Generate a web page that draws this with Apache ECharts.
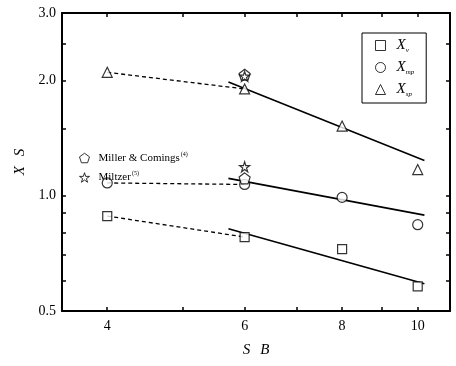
<!DOCTYPE html>
<html><head><meta charset="utf-8">
<script src="https://cdn.jsdelivr.net/npm/echarts@6/dist/echarts.min.js"></script>
<style>html,body{margin:0;padding:0;background:#fff}#c{width:456px;height:366px}</style>
</head><body><div id="c"></div>
<script>
// ---- data ----
const xCats = [4, 6, 8, 10];
const xvVals = [0.885, 0.78, 0.725, 0.58];
const xmpVals = [1.08, 1.07, 0.99, 0.84];
const xspVals = [2.1, 1.9, 1.52, 1.17];
const millerX = [6, 6];
const millerY = [2.07, 1.11];
const miltzerX = [6, 6];
const miltzerY = [2.05, 1.19];
const fitX = [5.72, 10.2];
const xvFit = [0.82, 0.589];
const xmpFit = [1.11, 0.89];
const xspFit = [1.98, 1.235];
const xTickVals = [4, 5, 6, 7, 8, 9, 10];
const xLabelVals = [4, 6, 8, 10];
const yTickVals = [0.5, 0.6, 0.7, 0.8, 0.9, 1.0, 1.5, 2.0, 2.5, 3.0];
const yLabelVals = [0.5, 1.0, 2.0, 3.0];

const pair = (xs, ys) => xs.map((x, i) => [x, ys[i]]);
const F = '"Liberation Serif","DejaVu Serif",serif';
const pentagon = 'path://M0,-1L0.951,-0.309L0.588,0.809L-0.588,0.809L-0.951,-0.309Z';
const star = 'path://M0,-1L0.2245,-0.309L0.951,-0.309L0.363,0.118L0.588,0.809L0,0.382L-0.588,0.809L-0.363,0.118L-0.951,-0.309L-0.2245,-0.309Z';
const hollow = {color: '#fff', borderColor: '#000', borderWidth: 1.2};

function axisX(pos, labels) {
  return {
    type: 'log', logBase: 10, min: 3.5, max: 11, position: pos,
    axisLine: {show: true, onZero: false, lineStyle: {color: '#000', width: 2}},
    axisTick: {show: true, inside: true, length: 4, customValues: xTickVals, lineStyle: {color: '#000', width: 1.5}},
    axisLabel: {show: labels, customValues: xLabelVals, color: '#000', fontFamily: F, fontSize: 14, margin: 8},
    splitLine: {show: false}, minorTick: {show: false},
    name: labels ? '{i|S}   {i|B}' : '', nameLocation: 'middle', nameGap: 32,
    nameTextStyle: {rich: {i: {fontFamily: F, fontStyle: 'italic', fontSize: 15, color: '#000'}}}
  };
}
function axisY(pos, labels) {
  return {
    type: 'log', logBase: 10, min: 0.5, max: 3.0, position: pos,
    axisLine: {show: true, onZero: false, lineStyle: {color: '#000', width: 2}},
    axisTick: {show: true, inside: true, length: 4, customValues: yTickVals, lineStyle: {color: '#000', width: 1.5}},
    axisLabel: {show: labels, customValues: yLabelVals, color: '#000', fontFamily: F, fontSize: 14, margin: 6,
      formatter: v => Number(v).toFixed(1)},
    splitLine: {show: false}, minorTick: {show: false},
    name: labels ? '{i|X}   {i|S}' : '', nameLocation: 'middle', nameGap: 31, nameRotate: 90,
    nameTextStyle: {rich: {i: {fontFamily: F, fontStyle: 'italic', fontSize: 15, color: '#000'}}}
  };
}

const sub = {x: {fontFamily: F, fontStyle: 'italic', fontSize: 15, color: '#000'},
             s: {fontFamily: F, fontStyle: 'italic', fontSize: 7, color: '#000', verticalAlign: 'bottom', padding: [10, 0, 0, 0]}};
const legendNames = {Xv: '{x|X}{s|v}', Xmp: '{x|X}{s|mp}', Xsp: '{x|X}{s|sp}'};
const legIcon = {color: '#fff', borderColor: '#000', borderWidth: 1};

const option = {
  animation: false,
  backgroundColor: '#fff',
  grid: {left: 62, right: 6, top: 13, bottom: 55},
  xAxis: [axisX('bottom', true), axisX('top', false)],
  yAxis: [axisY('left', true), axisY('right', false)],
  legend: [{
    data: ['Xv', 'Xmp', 'Xsp'], orient: 'vertical', left: 362, top: 33,
    borderColor: '#000', borderWidth: 1, padding: [5, 12, 5, 13],
    itemWidth: 10, itemHeight: 10, itemGap: 6, itemStyle: legIcon,
    formatter: n => legendNames[n],
    textStyle: {rich: sub, padding: [0, 0, 0, 6]}
  }, {
    data: [{name: 'Miller', icon: pentagon, itemStyle: legIcon}, {name: 'Miltzer', icon: star, itemStyle: legIcon}],
    orient: 'vertical', left: 79, top: 151,
    itemWidth: 10, itemHeight: 10, itemGap: 7, padding: 0,
    formatter: n => n === 'Miller' ? '{t|Miller & Comings}{p|(4)}' : '{t|Miltzer}{p|(5)}',
    textStyle: {rich: {t: {fontFamily: F, fontSize: 11, color: '#000'},
                       p: {fontFamily: F, fontSize: 6, color: '#000', verticalAlign: 'top', padding: [0, 0, 8, 1]}},
                padding: [0, 0, 0, 4]}
  }],
  series: [
    // fits
    {type: 'line', data: pair(fitX, xspFit), symbol: 'none', lineStyle: {color: '#000', width: 1.6}, silent: true, z: 1},
    {type: 'line', data: pair(fitX, xmpFit), symbol: 'none', lineStyle: {color: '#000', width: 1.6}, silent: true, z: 1},
    {type: 'line', data: pair(fitX, xvFit), symbol: 'none', lineStyle: {color: '#000', width: 1.6}, silent: true, z: 1},
    // dashed links between 4 and 6
    {type: 'line', data: pair(xCats.slice(0, 2), xspVals.slice(0, 2)), symbol: 'none', lineStyle: {color: '#000', width: 1.3, type: [4, 3]}, z: 1},
    {type: 'line', data: pair(xCats.slice(0, 2), xmpVals.slice(0, 2)), symbol: 'none', lineStyle: {color: '#000', width: 1.3, type: [4, 3]}, z: 1},
    {type: 'line', data: pair(xCats.slice(0, 2), xvVals.slice(0, 2)), symbol: 'none', lineStyle: {color: '#000', width: 1.3, type: [4, 3]}, z: 1},
    // points
    {name: 'Xv', type: 'scatter', data: pair(xCats, xvVals), symbol: 'rect', symbolSize: 9, itemStyle: hollow, z: 3},
    {name: 'Xmp', type: 'scatter', data: pair(xCats, xmpVals), symbol: 'circle', symbolSize: 10, itemStyle: hollow, z: 3},
    {name: 'Xsp', type: 'scatter', data: pair(xCats, xspVals), symbol: 'triangle', symbolSize: 10, itemStyle: hollow, z: 3},
    {name: 'Miller', type: 'scatter', data: pair(millerX, millerY), symbol: pentagon, symbolSize: 11, itemStyle: hollow, z: 4},
    {name: 'Miltzer', type: 'scatter', data: pair(miltzerX, miltzerY), symbol: star, symbolSize: 10, itemStyle: hollow, z: 5}
  ]
};
echarts.init(document.getElementById('c')).setOption(option);
</script></body></html>
